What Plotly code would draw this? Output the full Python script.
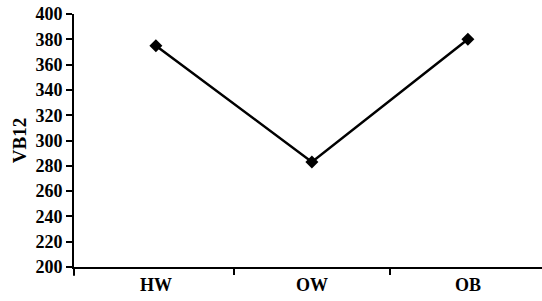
import plotly.graph_objects as go

categories = ["HW", "OW", "OB"]
vb12 = [375, 283, 380]
y_ticks = [200, 220, 240, 260, 280, 300, 320, 340, 360, 380, 400]

xpos = list(range(len(categories)))

fig = go.Figure()
fig.add_trace(go.Scatter(
    x=xpos, y=vb12, mode="lines+markers",
    line=dict(color="black", width=2.5),
    marker=dict(symbol="diamond", size=10, color="black"),
    showlegend=False,
))

font = "Liberation Serif"
fig.update_layout(
    width=542, height=301,
    margin=dict(l=74, r=0, t=14, b=34),
    paper_bgcolor="white", plot_bgcolor="white",
    font=dict(family=font, color="black"),
    xaxis=dict(
        range=[-0.525, 2.475], automargin=False,
        tickvals=xpos, ticktext=[f"<b>{c}</b>" for c in categories],
        ticks="", showgrid=False, zeroline=False,
        showline=True, linecolor="black", linewidth=2,
        tickfont=dict(family=font, size=18, color="black"),
        minor=dict(tickmode="array", tickvals=[0.5, 1.5], ticks="outside",
                   ticklen=6, tickwidth=2, tickcolor="black", showgrid=False),
    ),
    yaxis=dict(
        range=[200, 400], automargin=False,
        tickvals=y_ticks, ticktext=[f"<b>{v}</b>" for v in y_ticks],
        ticks="outside", ticklen=6, tickwidth=2, tickcolor="black",
        ticklabeloverflow="allow",
        showgrid=False, zeroline=False,
        showline=True, linecolor="black", linewidth=2,
        tickfont=dict(family=font, size=18, color="black"),
        title=dict(text="<b>VB12</b>", font=dict(family=font, size=19, color="black"), standoff=4),
    ),
)
fig.add_shape(type="line", xref="paper", yref="paper", x0=0, x1=0, y0=0, y1=-0.035,
              line=dict(color="black", width=2))

fig.write_html("out.html",
               config={"displayModeBar": False},
               post_script="document.body.style.margin='0';document.body.style.overflow='hidden';")
